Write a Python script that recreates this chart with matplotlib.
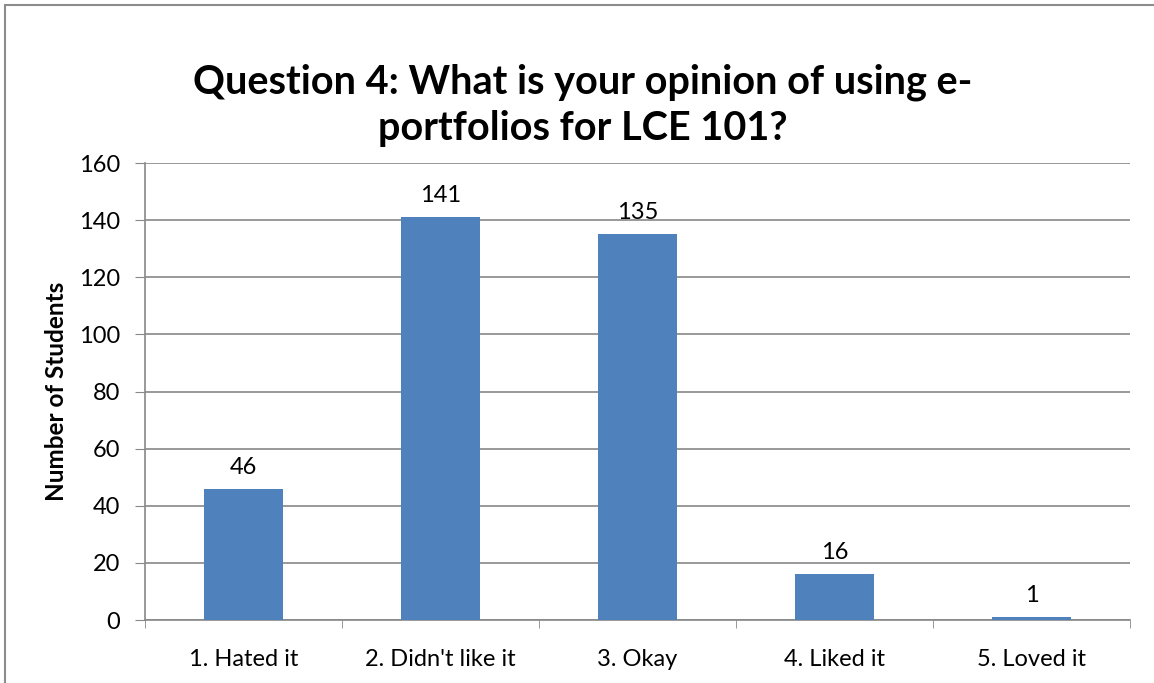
import matplotlib.pyplot as plt
import matplotlib as mpl
from matplotlib.patches import Rectangle

mpl.rcParams.update({
    "font.family": ["Lato", "DejaVu Sans"],
    "font.size": 17,
})

CATEGORIES = ["1. Hated it", "2. Didn't like it", "3. Okay", "4. Liked it", "5. Loved it"]
STUDENTS = [46, 141, 135, 16, 1]
Y_TICKS = [0, 20, 40, 60, 80, 100, 120, 140, 160]

BAR_COLOR = "#4F81BD"
GRID_COLOR = "#888888"

fig = plt.figure(figsize=(11.54, 6.83), dpi=100)
ax = fig.add_axes([0.1257, 0.0922, 0.8535, 0.6691])

x = list(range(len(CATEGORIES)))
bars = ax.bar(x, STUDENTS, width=0.4, color=BAR_COLOR, zorder=3)
for b, v in zip(bars, STUDENTS):
    ax.annotate(str(v), (b.get_x() + b.get_width() / 2, v), xytext=(0, 8),
                textcoords="offset points", ha="center", va="bottom", fontsize=17)

ax.set_xlim(-0.5, len(CATEGORIES) - 0.5)
ax.set_ylim(0, 160)
ax.set_yticks(Y_TICKS)
ax.set_xticks(x)
ax.set_xticklabels(CATEGORIES)
ax.set_xticks([i - 0.5 for i in range(len(CATEGORIES) + 1)], minor=True)
ax.tick_params(axis="x", which="major", length=0, pad=21)
ax.tick_params(axis="x", which="minor", length=6, color=GRID_COLOR, direction="out")
ax.tick_params(axis="y", length=7, color=GRID_COLOR, direction="out", pad=11)
ax.grid(axis="y", color=GRID_COLOR, linewidth=1.2, zorder=0)

for side in ["top", "right"]:
    ax.spines[side].set_visible(False)
for side in ["left", "bottom"]:
    ax.spines[side].set_color(GRID_COLOR)
    ax.spines[side].set_linewidth(1.2)

ax.set_ylabel("Number of Students", fontsize=17.5, fontweight="bold", labelpad=8)

fig.text(0.505, 0.846, "Question 4: What is your opinion of using e-\nportfolios for LCE 101?",
         ha="center", va="center", fontsize=28.5, fontweight="bold", linespacing=1.3)

# outer chart border (right side runs off the image)
fig.patches.append(Rectangle((0.0045, -0.02), 1.1, 1.0127, transform=fig.transFigure,
                             fill=False, edgecolor="#8c8c8c", linewidth=1.5))

fig.savefig("out.png", dpi=100)
